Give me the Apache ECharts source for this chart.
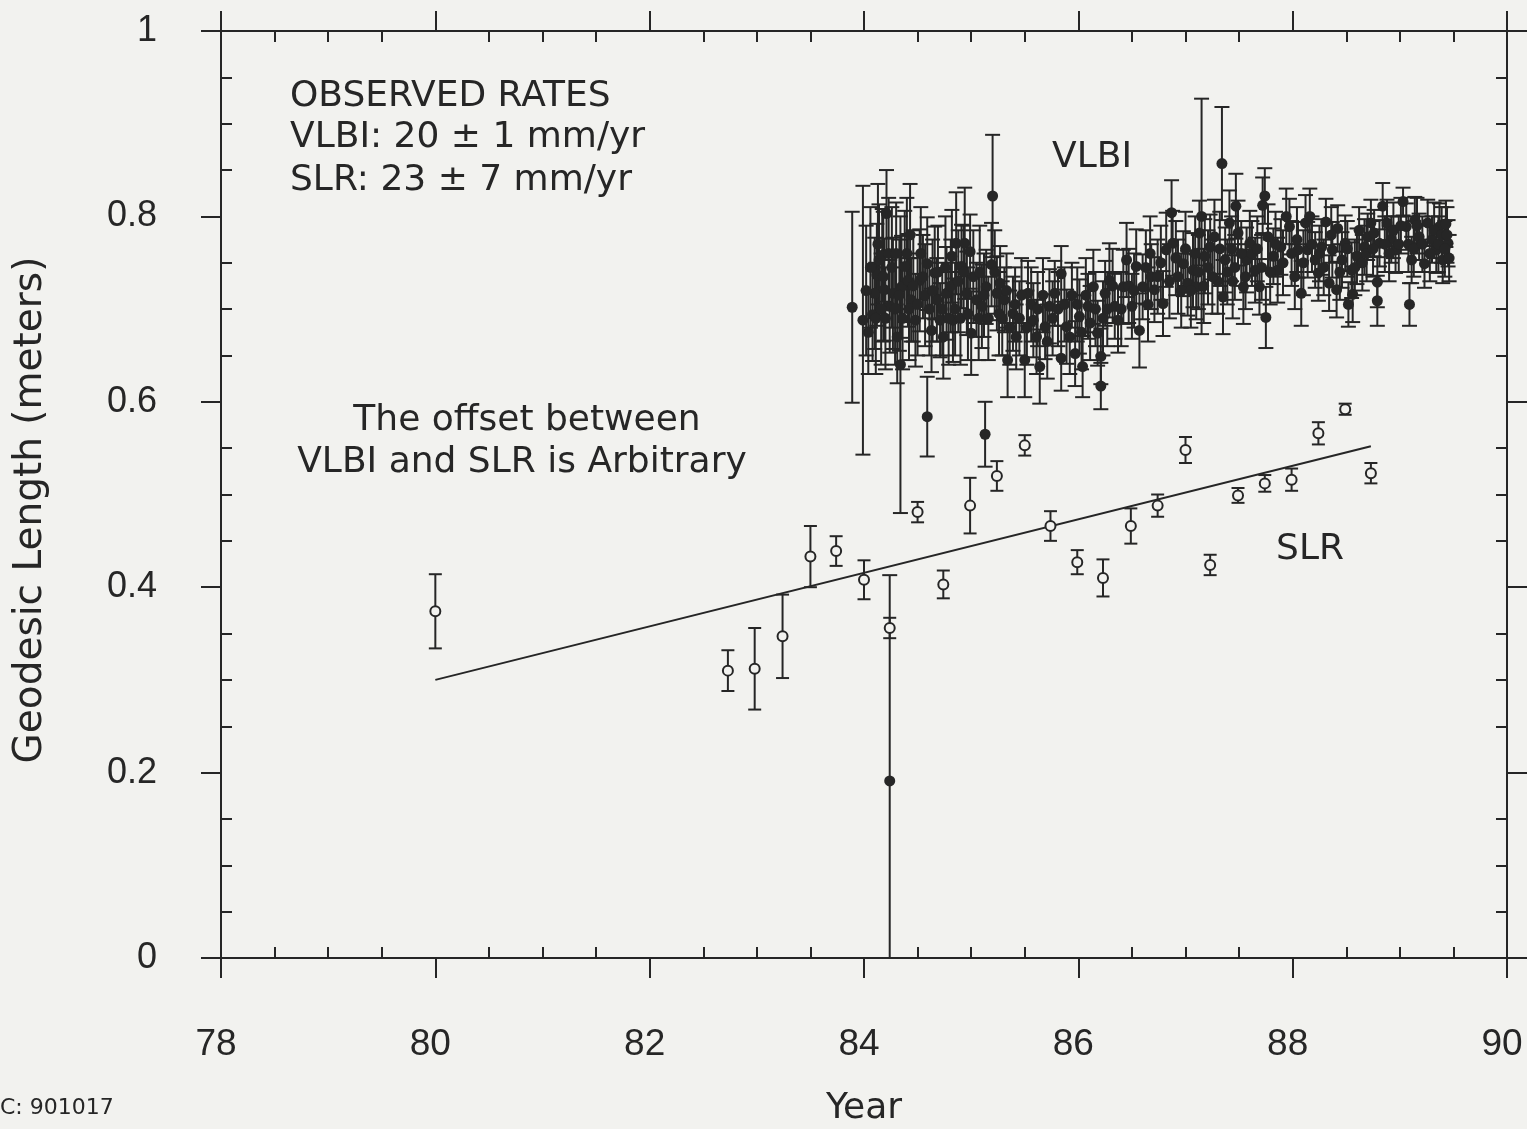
<!DOCTYPE html>
<html lang="en">
<head>
  <meta charset="UTF-8">
  <title>Geodesic Length: VLBI and SLR</title>
  <style>
    html, body { margin: 0; padding: 0; background: #f2f2ef; }
    #chart { width: 1527px; height: 1129px; }
  </style>
</head>
<body>
<div id="chart"></div>
<script src="https://cdn.jsdelivr.net/npm/echarts@6/dist/echarts.min.js"></script>
<script>
  // axes
  var yearRange = [78, 90];
  var lengthRange = [0, 1];
  var yearMinorTicks = [78.5, 79, 79.5, 80.5, 81, 81.5, 82.5, 83, 83.5, 84.5, 85, 85.5,
    86.5, 87, 87.5, 88.5, 89, 89.5];
  var lengthMinorTicks = [0.05, 0.1, 0.15, 0.25, 0.3, 0.35, 0.45, 0.5, 0.55,
    0.65, 0.7, 0.75, 0.85, 0.9, 0.95];

  // SLR (open circles)
  var slrYears = [80.0, 82.73, 82.98, 83.24, 83.50, 83.74, 84.00, 84.24, 84.50, 84.74,
    84.99, 85.24, 85.50, 85.74, 85.99, 86.23, 86.49, 86.74, 87.00, 87.23,
    87.49, 87.74, 87.99, 88.24, 88.49, 88.73];
  var slrValues = [0.374, 0.310, 0.312, 0.347, 0.433, 0.439, 0.408, 0.356, 0.481, 0.403,
    0.488, 0.520, 0.553, 0.466, 0.427, 0.410, 0.466, 0.488, 0.548, 0.424,
    0.499, 0.512, 0.516, 0.566, 0.592, 0.523];
  var slrErrors = [0.040, 0.022, 0.044, 0.045, 0.033, 0.016, 0.021, 0.011, 0.011, 0.015,
    0.030, 0.016, 0.011, 0.016, 0.013, 0.020, 0.019, 0.012, 0.014, 0.011,
    0.008, 0.009, 0.012, 0.012, 0.006, 0.011];

  // SLR trend line end points
  var fitYears = [80.0, 88.73];
  var fitValues = [0.300, 0.552];

  // VLBI (filled circles): clearly separable points first, then the dense band
  var vlbiYears = [
    83.89, 83.99, 84.04, 84.08, 84.10, 84.12, 84.14, 84.17, 84.19, 84.21,
    84.24, 84.24, 84.27, 84.31, 84.34, 84.35, 84.38, 84.41, 84.43, 84.44,
    84.48, 84.52, 84.55, 84.59, 84.59, 84.63, 84.66, 84.68, 84.71, 84.74,
    84.77, 84.82, 84.83, 84.86, 84.91, 84.94, 84.96, 84.99, 85.00, 85.05,
    85.10, 85.13, 85.14, 85.19, 85.20, 85.24, 85.27, 85.31, 85.34, 85.39,
    85.42, 85.50, 85.53, 85.58, 85.64, 85.69, 85.73, 85.78, 85.84, 85.84,
    85.89, 85.94, 85.97, 86.01, 86.04, 86.09, 86.14, 86.18, 86.21, 86.21,
    86.25, 86.29, 86.34, 86.37, 86.42, 86.45, 86.50, 86.54, 86.57, 86.60,
    86.67, 86.68, 86.71, 86.74, 86.79, 86.82, 86.87, 86.88, 86.93, 86.98,
    87.02, 87.07, 87.10, 87.13, 87.15, 87.18, 87.23, 87.27, 87.30, 87.34,
    87.35, 87.37, 87.41, 87.44, 87.47, 87.49, 87.54, 87.57, 87.60, 87.65,
    87.69, 87.72, 87.74, 87.75, 87.77, 87.82, 87.86, 87.89, 87.94, 87.97,
    88.02, 88.05, 88.08, 88.12, 88.14, 88.16, 88.21, 88.24, 88.27, 88.31,
    88.34, 88.37, 88.41, 88.42, 88.46, 88.49, 88.52, 88.55, 88.56, 88.60,
    88.62, 88.67, 88.70, 88.73, 88.76, 88.79, 88.79, 88.81, 88.84, 88.88,
    88.92, 88.96, 89.03, 89.06, 89.09, 89.11, 89.14, 89.18, 89.23, 89.26,
    89.30, 89.34, 89.37, 89.40, 89.43, 89.45, 89.46,
    84.02, 84.06, 84.11, 84.13, 84.16, 84.18, 84.20, 84.23, 84.26, 84.29,
    84.30, 84.33, 84.36, 84.40, 84.42, 84.46, 84.50, 84.53, 84.57, 84.61,
    84.64, 84.69, 84.73, 84.76, 84.79, 84.81, 84.85, 84.88, 84.90, 84.93,
    84.97, 85.02, 85.07, 85.08, 85.12, 85.16, 85.22, 85.26, 85.29, 85.33,
    85.36, 85.41, 85.45, 85.47, 85.52, 85.56, 85.61, 85.62, 85.67, 85.71,
    85.76, 85.81, 85.87, 85.92, 85.99, 86.03, 86.07, 86.11, 86.16, 86.23,
    86.27, 86.32, 86.40, 86.47, 86.52, 86.63, 86.65, 86.77, 86.85, 86.91,
    86.96, 87.00, 87.05, 87.09, 87.12, 87.17, 87.21, 87.25, 87.32, 87.39,
    87.43, 87.46, 87.52, 87.56, 87.62, 87.67, 87.71, 87.79, 87.84, 87.91,
    87.99, 88.04, 88.10, 88.18, 88.25, 88.29, 88.36, 88.44, 88.51, 88.58,
    88.65, 88.69, 88.75, 88.86, 88.90, 88.94, 88.99, 89.01, 89.08, 89.13,
    89.16, 89.21, 89.28, 89.32, 89.36, 89.39, 89.42, 89.44
  ];
  var vlbiValues = [
    0.702, 0.688, 0.675, 0.694, 0.717, 0.737, 0.753, 0.758, 0.721, 0.803,
    0.703, 0.191, 0.717, 0.670, 0.640, 0.724, 0.746, 0.731, 0.780, 0.710,
    0.688, 0.731, 0.735, 0.749, 0.584, 0.677, 0.739, 0.710, 0.688, 0.670,
    0.717, 0.757, 0.688, 0.771, 0.746, 0.771, 0.717, 0.762, 0.674, 0.710,
    0.703, 0.565, 0.724, 0.748, 0.822, 0.717, 0.728, 0.710, 0.645, 0.695,
    0.670, 0.645, 0.717, 0.688, 0.638, 0.681, 0.703, 0.717, 0.738, 0.647,
    0.681, 0.715, 0.652, 0.692, 0.638, 0.703, 0.724, 0.674, 0.649, 0.617,
    0.717, 0.731, 0.703, 0.688, 0.724, 0.753, 0.703, 0.746, 0.677, 0.724,
    0.760, 0.735, 0.721, 0.735, 0.706, 0.764, 0.804, 0.771, 0.735, 0.749,
    0.728, 0.742, 0.724, 0.782, 0.800, 0.757, 0.767, 0.778, 0.730, 0.857,
    0.713, 0.753, 0.793, 0.730, 0.811, 0.782, 0.724, 0.753, 0.771, 0.742,
    0.724, 0.812, 0.822, 0.691, 0.778, 0.757, 0.742, 0.767, 0.800, 0.789,
    0.735, 0.764, 0.717, 0.793, 0.764, 0.800, 0.753, 0.739, 0.767, 0.794,
    0.728, 0.764, 0.721, 0.787, 0.753, 0.771, 0.705, 0.742, 0.716, 0.757,
    0.785, 0.767, 0.778, 0.793, 0.782, 0.729, 0.709, 0.771, 0.811, 0.793,
    0.775, 0.764, 0.816, 0.789, 0.705, 0.753, 0.796, 0.778, 0.749, 0.793,
    0.775, 0.764, 0.789, 0.753, 0.792, 0.771, 0.755,
    0.720, 0.745, 0.690, 0.770, 0.700, 0.735, 0.690, 0.760, 0.745, 0.700,
    0.760, 0.715, 0.690, 0.760, 0.700, 0.725, 0.705, 0.760, 0.715, 0.700,
    0.720, 0.740, 0.700, 0.745, 0.690, 0.725, 0.700, 0.730, 0.690, 0.740,
    0.695, 0.735, 0.690, 0.740, 0.715, 0.690, 0.740, 0.695, 0.690, 0.720,
    0.680, 0.705, 0.690, 0.715, 0.680, 0.705, 0.670, 0.700, 0.715, 0.665,
    0.690, 0.700, 0.705, 0.670, 0.705, 0.675, 0.715, 0.685, 0.700, 0.690,
    0.700, 0.725, 0.700, 0.725, 0.720, 0.745, 0.705, 0.750, 0.730, 0.755,
    0.720, 0.765, 0.720, 0.760, 0.740, 0.725, 0.745, 0.735, 0.765, 0.740,
    0.765, 0.745, 0.760, 0.735, 0.760, 0.765, 0.745, 0.740, 0.770, 0.750,
    0.760, 0.775, 0.750, 0.770, 0.760, 0.745, 0.780, 0.740, 0.765, 0.745,
    0.750, 0.760, 0.765, 0.770, 0.760, 0.785, 0.770, 0.790, 0.770, 0.765,
    0.790, 0.770, 0.760, 0.785, 0.770, 0.780, 0.765, 0.780
  ];
  var vlbiErrors = [
    0.103, 0.145, 0.045, 0.050, 0.060, 0.055, 0.060, 0.050, 0.055, 0.047,
    0.050, 0.222, 0.060, 0.050, 0.160, 0.055, 0.060, 0.050, 0.055, 0.045,
    0.050, 0.055, 0.045, 0.050, 0.043, 0.045, 0.050, 0.045, 0.040, 0.045,
    0.050, 0.050, 0.045, 0.055, 0.045, 0.060, 0.045, 0.040, 0.045, 0.040,
    0.045, 0.035, 0.040, 0.045, 0.066, 0.040, 0.040, 0.035, 0.040, 0.040,
    0.035, 0.040, 0.035, 0.040, 0.040, 0.035, 0.040, 0.035, 0.030, 0.035,
    0.040, 0.035, 0.035, 0.040, 0.033, 0.035, 0.040, 0.035, 0.030, 0.025,
    0.035, 0.040, 0.035, 0.035, 0.040, 0.040, 0.035, 0.040, 0.040, 0.035,
    0.040, 0.035, 0.035, 0.040, 0.035, 0.040, 0.035, 0.035, 0.040, 0.035,
    0.035, 0.040, 0.035, 0.035, 0.127, 0.040, 0.035, 0.040, 0.035, 0.061,
    0.040, 0.035, 0.035, 0.040, 0.035, 0.035, 0.040, 0.035, 0.035, 0.035,
    0.030, 0.030, 0.030, 0.033, 0.035, 0.030, 0.035, 0.030, 0.030, 0.030,
    0.035, 0.030, 0.035, 0.030, 0.030, 0.030, 0.030, 0.030, 0.030, 0.025,
    0.030, 0.030, 0.030, 0.025, 0.030, 0.030, 0.024, 0.030, 0.030, 0.030,
    0.025, 0.030, 0.025, 0.025, 0.025, 0.027, 0.027, 0.025, 0.025, 0.025,
    0.025, 0.025, 0.015, 0.025, 0.023, 0.025, 0.025, 0.025, 0.026, 0.025,
    0.025, 0.025, 0.025, 0.025, 0.025, 0.025, 0.025,
    0.070, 0.065, 0.060, 0.065, 0.060, 0.070, 0.055, 0.060, 0.065, 0.060,
    0.055, 0.060, 0.055, 0.060, 0.055, 0.060, 0.055, 0.050, 0.055, 0.050,
    0.055, 0.050, 0.050, 0.055, 0.050, 0.050, 0.050, 0.055, 0.050, 0.050,
    0.050, 0.050, 0.045, 0.050, 0.045, 0.045, 0.045, 0.045, 0.040, 0.040,
    0.040, 0.040, 0.040, 0.040, 0.040, 0.040, 0.040, 0.040, 0.040, 0.040,
    0.040, 0.040, 0.040, 0.040, 0.040, 0.040, 0.040, 0.040, 0.040, 0.040,
    0.040, 0.040, 0.040, 0.040, 0.040, 0.040, 0.040, 0.040, 0.040, 0.040,
    0.040, 0.040, 0.040, 0.040, 0.040, 0.040, 0.040, 0.040, 0.040, 0.035,
    0.035, 0.035, 0.035, 0.035, 0.035, 0.035, 0.035, 0.035, 0.035, 0.035,
    0.035, 0.035, 0.035, 0.030, 0.030, 0.030, 0.030, 0.030, 0.030, 0.030,
    0.030, 0.030, 0.030, 0.030, 0.030, 0.030, 0.030, 0.030, 0.030, 0.030,
    0.030, 0.030, 0.030, 0.030, 0.030, 0.030, 0.030, 0.030
  ];

  var ink = '#262626';
  var paper = '#f2f2ef';
  var font = 'DejaVu Sans';
  var numFont = 'Liberation Sans';

  function points(xs, ys) {
    return xs.map(function (x, i) { return [x, ys[i]]; });
  }
  function bars(xs, ys, es) {
    return xs.map(function (x, i) { return [x, ys[i] - es[i], ys[i] + es[i]]; });
  }

  // vertical error bar with caps
  function errorBar(capHalf) {
    return function (params, api) {
      var x = api.value(0);
      var lo = Math.max(api.value(1), lengthRange[0]);
      var top = api.coord([x, api.value(2)]);
      var bot = api.coord([x, lo]);
      var st = { stroke: ink, lineWidth: 2 };
      return {
        type: 'group',
        children: [
          { type: 'line', shape: { x1: top[0], y1: top[1], x2: bot[0], y2: bot[1] }, style: st },
          { type: 'line', shape: { x1: top[0] - capHalf, y1: top[1], x2: top[0] + capHalf, y2: top[1] }, style: st },
          { type: 'line', shape: { x1: bot[0] - capHalf, y1: bot[1], x2: bot[0] + capHalf, y2: bot[1] }, style: st }
        ]
      };
    };
  }

  function xAxisOf(pos, minor) {
    return {
      type: 'value', position: pos, min: yearRange[0], max: yearRange[1],
      interval: minor ? 0.5 : 2,
      axisLine: { show: !minor, onZero: false, lineStyle: { color: ink, width: 2 } },
      axisTick: minor
        ? { show: true, inside: true, length: 11, customValues: yearMinorTicks, lineStyle: { color: ink, width: 2 } }
        : { show: true, inside: false, length: 20, lineStyle: { color: ink, width: 2 } },
      axisLabel: { show: false },
      splitLine: { show: false }
    };
  }
  function yAxisOf(pos, minor) {
    return {
      type: 'value', position: pos, min: lengthRange[0], max: lengthRange[1],
      interval: minor ? 0.05 : 0.2,
      axisLine: { show: !minor, onZero: false, lineStyle: { color: ink, width: 2 } },
      axisTick: minor
        ? { show: true, inside: true, length: 11, customValues: lengthMinorTicks, lineStyle: { color: ink, width: 2 } }
        : { show: true, inside: false, length: 20, lineStyle: { color: ink, width: 2 } },
      axisLabel: { show: false },
      splitLine: { show: false }
    };
  }

  var xBottom = xAxisOf('bottom', false);
  xBottom.axisLabel = { show: true, fontSize: 37, fontFamily: numFont, color: ink, margin: 68, padding: [0, 10, 0, 0] };
  xBottom.name = 'Year';
  xBottom.nameLocation = 'middle';
  xBottom.nameGap = 133;
  xBottom.nameTextStyle = { fontSize: 36, fontFamily: font, color: ink };

  var yLeft = yAxisOf('left', false);
  yLeft.axisLabel = { show: true, fontSize: 36, fontFamily: numFont, color: ink, margin: 64 };

  function label(text, x, y, size, align) {
    return {
      type: 'text', x: x, y: y,
      style: { text: text, font: size + 'px ' + font, fill: ink, textAlign: align, textVerticalAlign: 'middle' }
    };
  }

  var chart = echarts.init(document.getElementById('chart'));
  chart.setOption({
    backgroundColor: paper,
    animation: false,
    grid: { left: 221, right: 20, top: 31, bottom: 171, containLabel: false, outerBoundsMode: 'none' },
    xAxis: [xBottom, xAxisOf('top', false), xAxisOf('bottom', true), xAxisOf('top', true)],
    yAxis: [yLeft, yAxisOf('right', false), yAxisOf('left', true), yAxisOf('right', true)],
    graphic: [
      label('OBSERVED RATES', 290, 97, 36, 'left'),
      label('VLBI: 20 \u00b1 1 mm/yr', 290, 138, 36, 'left'),
      label('SLR: 23 \u00b1 7 mm/yr', 290, 181, 36, 'left'),
      label('The offset between', 527, 421, 36, 'center'),
      label('VLBI and SLR is Arbitrary', 522, 463, 36, 'center'),
      label('VLBI', 1092, 158, 36, 'center'),
      label('SLR', 1310, 550, 36, 'center'),
      label('C: 901017', 0, 1108, 22, 'left'),
      {
        type: 'text', x: 31, y: 510, rotation: Math.PI / 2,
        style: { text: 'Geodesic Length (meters)', font: '39px ' + font, fill: ink, textAlign: 'center', textVerticalAlign: 'middle' }
      }
    ],
    series: [
      {
        name: 'SLR error', type: 'custom', xAxisIndex: 0, yAxisIndex: 0,
        renderItem: errorBar(6.5), data: bars(slrYears, slrValues, slrErrors), z: 2
      },
      {
        name: 'VLBI error', type: 'custom', xAxisIndex: 0, yAxisIndex: 0,
        renderItem: errorBar(7.5), data: bars(vlbiYears, vlbiValues, vlbiErrors), z: 2
      },
      {
        name: 'SLR fit', type: 'line', xAxisIndex: 0, yAxisIndex: 0,
        data: points(fitYears, fitValues), symbol: 'none',
        lineStyle: { color: ink, width: 2 }, z: 3
      },
      {
        name: 'VLBI', type: 'scatter', xAxisIndex: 0, yAxisIndex: 0,
        data: points(vlbiYears, vlbiValues), symbol: 'circle', symbolSize: 11,
        itemStyle: { color: ink, opacity: 1 }, z: 4
      },
      {
        name: 'SLR', type: 'scatter', xAxisIndex: 0, yAxisIndex: 0,
        data: points(slrYears, slrValues), symbol: 'circle', symbolSize: 10,
        itemStyle: { color: paper, borderColor: ink, borderWidth: 2, opacity: 1 }, z: 4
      }
    ]
  });
  window.addEventListener('resize', function () { chart.resize(); });
</script>
</body>
</html>
